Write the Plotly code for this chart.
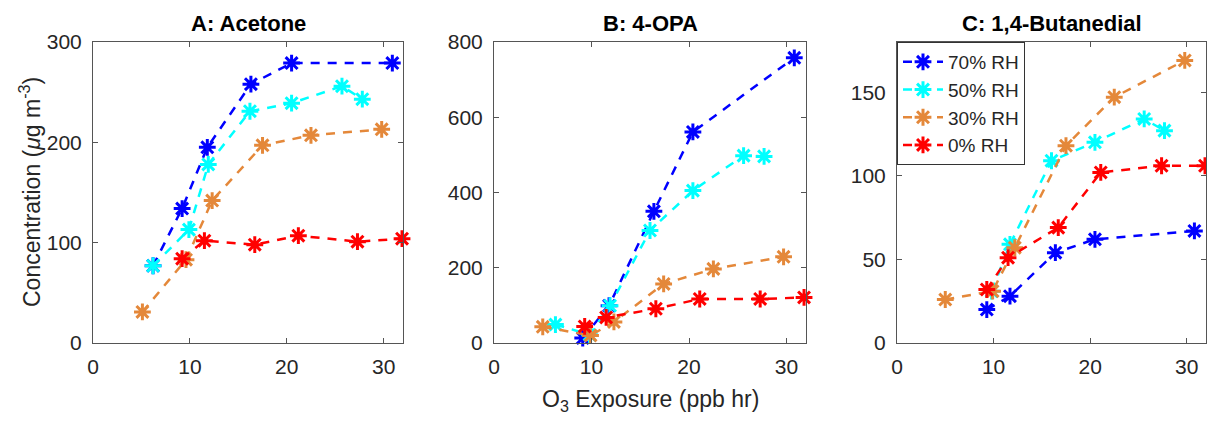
import plotly.graph_objs as go
from plotly.subplots import make_subplots

# O3 exposure (ppb hr) and concentrations (ug m-3)
rh_labels = ["70% RH", "50% RH", "30% RH", "0% RH"]
rh_colors = ["#0000FF", "#00FFFF", "#E4883A", "#FF0000"]

# A: Acetone
acetone_x = [
    [6.2, 9.2, 11.8, 16.3, 20.5, 30.9],
    [6.2, 9.9, 11.9, 16.2, 20.5, 25.7, 27.8],
    [5.1, 9.6, 12.3, 17.5, 22.5, 29.8],
    [9.2, 11.5, 16.7, 21.2, 27.3, 31.9],
]
acetone_y = [
    [77, 134, 195, 258, 279, 279],
    [77, 113, 178, 231, 239, 256, 243],
    [31, 83, 142, 197, 207, 213],
    [84, 102, 98, 107, 101, 104],
]

# B: 4-OPA
opa_x = [
    [9.1, 11.8, 16.4, 20.4, 30.8],
    [6.3, 9.8, 11.9, 16.0, 20.4, 25.6, 27.7],
    [5.0, 9.9, 12.3, 17.4, 22.5, 29.7],
    [9.3, 11.5, 16.6, 21.1, 27.3, 31.8],
]
opa_y = [
    [13, 99, 350, 561, 758],
    [49, 22, 99, 299, 405, 498, 496],
    [43, 20, 56, 157, 197, 229],
    [44, 68, 91, 117, 117, 121],
]

# C: 1,4-Butanedial
but_x = [
    [9.3, 11.7, 16.4, 20.5, 30.8],
    [9.8, 11.7, 16.0, 20.5, 25.6, 27.7],
    [5.0, 9.9, 12.2, 17.5, 22.5, 29.8],
    [9.3, 11.5, 16.7, 21.1, 27.4, 31.9],
]
but_y = [
    [20, 28, 54, 62, 67],
    [31, 59, 109, 120, 134, 127],
    [26, 31, 57, 118, 147, 169],
    [32, 51, 69, 102, 106, 106],
]

panel_titles = ["A: Acetone", "B: 4-OPA", "C: 1,4-Butanedial"]
y_ranges = [[0, 300], [0, 800], [0, 180]]
y_ticks = [[0, 100, 200, 300], [0, 200, 400, 600, 800], [0, 50, 100, 150]]
x_ticks = [0, 10, 20, 30]

# the page body has an 8px margin, so the figure starts at (8, 8)
OFF = 8
W, H = 1215 - OFF, 421 - OFF
FONT = "Liberation Sans, Arial, sans-serif"
AXC = "#262626"


def px(x):
    return (x - OFF) / W


def py(y):
    return 1 - (y - OFF) / H


def build():
    fig = make_subplots(rows=1, cols=3)
    panels = [(acetone_x, acetone_y), (opa_x, opa_y), (but_x, but_y)]
    for p, (xs, ys) in enumerate(panels):
        for i in range(4):
            fig.add_trace(go.Scatter(
                x=xs[i], y=ys[i], mode="lines+markers", name=rh_labels[i],
                line=dict(color=rh_colors[i], width=2.5, dash="9px,8px"),
                marker=dict(symbol="asterisk-open", size=14,
                            line=dict(color=rh_colors[i], width=3)),
                showlegend=(p == 2), cliponaxis=False,
            ), row=1, col=p + 1)

    # screen pixel boxes of the three axes
    x_box = [(93, 403), (494, 806), (897, 1206)]
    y_dom = [py(343), py(42)]
    for p in range(3):
        ax = dict(
            domain=[px(x_box[p][0]), px(x_box[p][1])], automargin=False,
            showline=True, mirror="ticks", linecolor="#555555", linewidth=1,
            ticks="inside", ticklen=5, tickcolor="#555555", tickwidth=1,
            showgrid=False, zeroline=False,
            tickfont=dict(family=FONT, size=21, color=AXC),
        )
        fig.update_xaxes(**ax, range=[0, 32], tickvals=x_ticks,
                         ticklabelstandoff=5, row=1, col=p + 1)
        ax["domain"] = y_dom
        fig.update_yaxes(**ax, range=y_ranges[p], tickvals=y_ticks[p],
                         ticklabelstandoff=6, row=1, col=p + 1)
        fig.add_annotation(
            x=px((x_box[p][0] + x_box[p][1]) / 2), y=py(23),
            xref="paper", yref="paper", showarrow=False,
            xanchor="center", yanchor="middle",
            text="<b>" + panel_titles[p] + "</b>",
            font=dict(family=FONT, size=22, color="black"))

    fig.add_annotation(
        x=px(30), y=py(192), xref="paper", yref="paper", showarrow=False,
        xanchor="center", yanchor="middle",
        textangle=-90, text="Concentration (<i>μ</i>g m<sup>-3</sup>)",
        font=dict(family=FONT, size=23, color=AXC))
    fig.add_annotation(
        x=px(650), y=py(400), xref="paper", yref="paper", showarrow=False,
        xanchor="center", yanchor="middle",
        text="O<sub>3</sub> Exposure (ppb hr)",
        font=dict(family=FONT, size=23, color=AXC))

    fig.update_layout(
        width=W, height=H, margin=dict(l=0, r=0, t=0, b=0),
        plot_bgcolor="white", paper_bgcolor="white",
        legend=dict(x=px(897), y=py(42), xanchor="left", yanchor="top",
                    bgcolor="white", bordercolor="#333333", borderwidth=1,
                    font=dict(family=FONT, size=19, color=AXC),
                    itemwidth=40, tracegroupgap=0),
    )
    fig.write_html("out.html")


if __name__ == '__main__':
    build()
